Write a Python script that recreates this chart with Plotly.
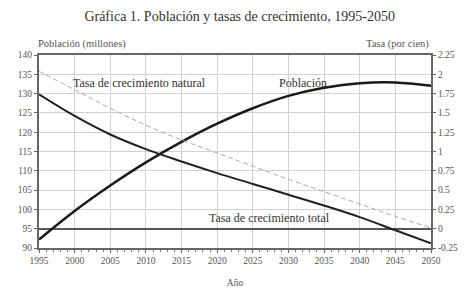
import plotly.graph_objects as go

years = [1995, 2000, 2005, 2010, 2015, 2020, 2025, 2030, 2035, 2040, 2045, 2050]
poblacion = [92.2, 99.6, 106.2, 112.2, 117.5, 122.2, 126.2, 129.4, 131.5, 132.7, 132.9, 132.0]
tasa_total = [1.74, 1.46, 1.22, 1.03, 0.87, 0.72, 0.58, 0.44, 0.30, 0.15, -0.02, -0.19]
tasa_natural = [2.04, 1.80, 1.56, 1.34, 1.15, 0.98, 0.81, 0.64, 0.48, 0.32, 0.16, 0.01]

left_ticks = list(range(90, 141, 5))
right_vals = [-0.25, 0, 0.25, 0.5, 0.75, 1, 1.25, 1.5, 1.75, 2, 2.25]
right_text = ["-0.25", "0", "0.25", "0.5", "0.75", "1", "1.25", "1.5", "1.75", "2", "2.25"]

FONT = "Liberation Serif, Times New Roman, DejaVu Serif, serif"
TICKF = dict(family=FONT, size=9.5, color="#555")
fig = go.Figure()
fig.add_trace(go.Scatter(x=years, y=poblacion, mode="lines", line=dict(color="#1a1a1a", width=2.5, shape="spline", smoothing=1.0), yaxis="y"))
fig.add_trace(go.Scatter(x=years, y=tasa_total, mode="lines", line=dict(color="#222", width=2, shape="spline", smoothing=1.0), yaxis="y2"))
fig.add_trace(go.Scatter(x=years, y=tasa_natural, mode="lines", line=dict(color="#aaaaaa", width=1, dash="5px,3px", shape="spline", smoothing=1.0), yaxis="y2"))

fig.update_layout(
    width=470, height=299,
    margin=dict(l=39, r=35, t=55, b=41),
    paper_bgcolor="white", plot_bgcolor="white",
    showlegend=False,
    font=dict(family=FONT, size=9.5, color="#444"),
    title=dict(text="Gráfica 1. Población y tasas de crecimiento, 1995-2050", x=0.51, xanchor="center", y=0.947, yanchor="middle",
               font=dict(family=FONT, size=14, color="#333")),
    xaxis=dict(range=[1995, 2050], dtick=5, tick0=1995, showgrid=True, gridcolor="#d0d0d0", gridwidth=1,
               showline=True, linecolor="#666", linewidth=2, mirror=True, ticks="outside", ticklen=3, tickcolor="#666",
               minor=dict(dtick=1, ticks="outside", ticklen=2, tickcolor="#777", showgrid=False),
               tickfont=TICKF,
               title=dict(text="Año", font=TICKF, standoff=14), zeroline=False),
    yaxis=dict(range=[90, 140], tickvals=left_ticks, showgrid=True, gridcolor="#d0d0d0", gridwidth=1,
               showline=True, linecolor="#666", linewidth=2, ticks="outside", ticklen=3, tickcolor="#666",
               tickfont=TICKF, zeroline=False),
    yaxis2=dict(range=[-0.25, 2.25], tickvals=right_vals, ticktext=right_text, overlaying="y", side="right",
                showgrid=False, showline=True, linecolor="#666", linewidth=2, ticks="outside", ticklen=3, tickcolor="#666",
                tickfont=TICKF,
                zeroline=True, zerolinecolor="#555", zerolinewidth=2),
)

ann_font = dict(family=FONT, size=12, color="#333")
fig.add_annotation(x=2009.1, y=1.89, xref="x", yref="y2", text="Tasa de crecimiento natural", showarrow=False, font=ann_font)
fig.add_annotation(x=2032.1, y=1.89, xref="x", yref="y2", text="Población", showarrow=False, font=ann_font)
fig.add_annotation(x=2027.4, y=0.135, xref="x", yref="y2", text="Tasa de crecimiento total", showarrow=False, font=ann_font)
fig.add_annotation(x=0, y=1.0, xref="paper", yref="paper", yanchor="bottom", xanchor="left", yshift=3, xshift=-3,
                   text="Población (millones)", showarrow=False, font=dict(family=FONT, size=10.5, color="#555"))
fig.add_annotation(x=1, y=1.0, xref="paper", yref="paper", yanchor="bottom", xanchor="right", yshift=3,
                   text="Tasa (por cien)", showarrow=False, font=dict(family=FONT, size=10.5, color="#555"))

fig.write_html("out.html", config={"displayModeBar": False}, post_script="document.body.style.margin='0';")
